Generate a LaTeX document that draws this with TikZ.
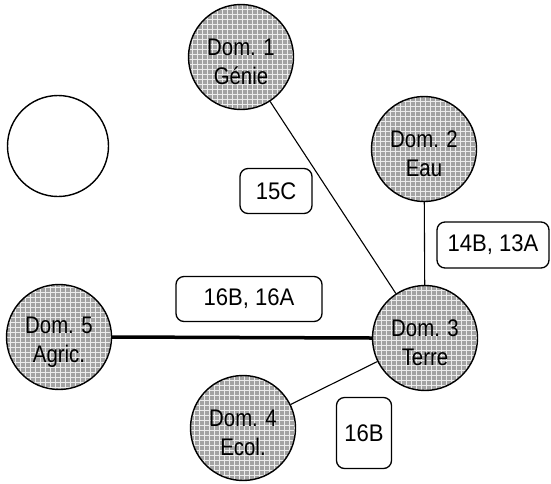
\documentclass[tikz,border=0pt]{standalone}
\usepackage{fontspec}
\setmainfont{Liberation Sans}
\newfontfamily\domfont[FakeStretch=0.85]{Liberation Sans}
\newfontfamily\tagfont[FakeStretch=0.92]{Liberation Sans}
\newcommand\domstrut{\rule{0pt}{26pt}}
\begin{document}
\begin{tikzpicture}[x=1pt,y=-1pt,
  dom/.style={circle, draw=black, line width=1.4pt, fill=black!36, minimum size=105pt,
    inner sep=0pt, align=center, font=\domfont\fontsize{24}{29}\selectfont,
    path picture={\draw[white, line width=0.7pt, opacity=0.8]
      ([shift={(-60pt,-60pt)}]path picture bounding box.center) grid[step=5pt]
      ([shift={(60pt,60pt)}]path picture bounding box.center);}},
  tagbox/.style={draw=black, line width=1.3pt, rounded corners=8pt, align=center,
    font=\tagfont\fontsize{24}{28}\selectfont, inner sep=0pt},
  link/.style={line width=1.1pt}]
\useasboundingbox (0,0) rectangle (551,483);
% empty circle
\node[circle, draw=black, line width=1.4pt, minimum size=101pt, inner sep=0pt] (empty) at (58,146) {};
% domains
\node[dom] (d1) at (241,57) {\domstrut Dom. 1\\Génie};
\node[dom] (d2) at (424,149) {\domstrut Dom. 2\\Eau};
\node[dom] (d3) at (425,338) {\domstrut Dom. 3\\Terre};
\node[dom] (d4) at (243,428) {\domstrut Dom. 4\\Ecol.};
\node[dom] (d5) at (59,337) {\domstrut Dom. 5\\Agric.};
% links
\draw[link] (d1) -- (d3);
\draw[link] (d2) -- (d3);
\draw[link] (d4) -- (d3);
\draw[line width=3.5pt] (d5.east) -- (d3.west);
% tags
\node[tagbox, minimum width=72pt, minimum height=45pt] (t15c) at (276,191) {15C};
\node[tagbox, minimum width=112pt, minimum height=46pt] (t14b) at (493,245) {14B, 13A};
\node[tagbox, minimum width=146pt, minimum height=45pt] (t16ba) at (249,299) {16B, 16A};
\node[tagbox, minimum width=55pt, minimum height=71pt] (t16b) at (364,433) {16B};
\end{tikzpicture}
\end{document}
